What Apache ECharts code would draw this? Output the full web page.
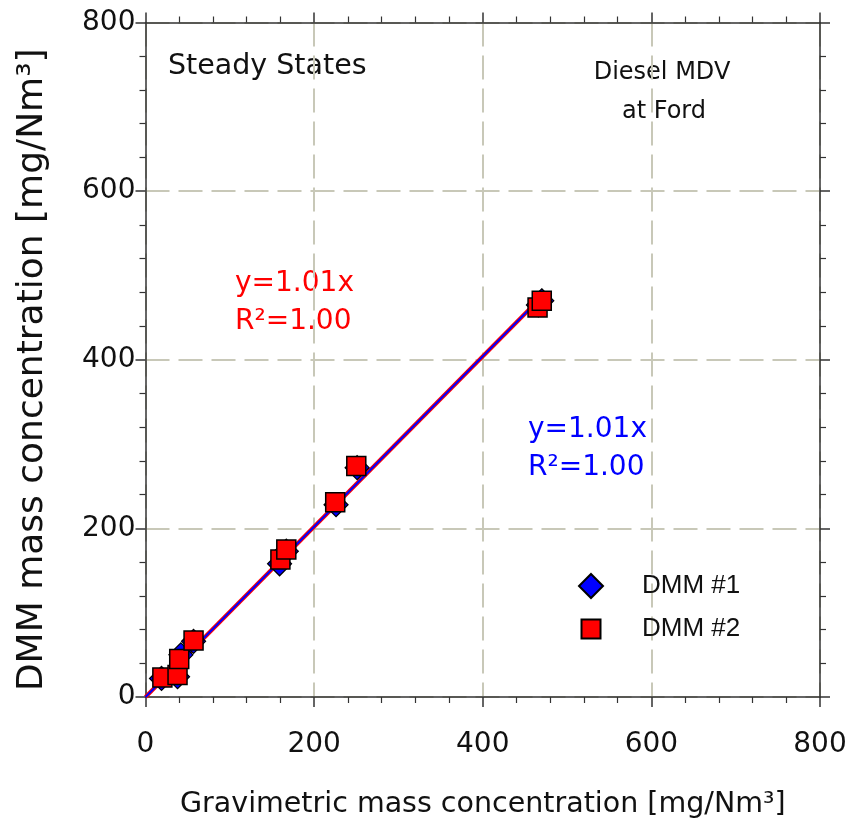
<!DOCTYPE html>
<html><head><meta charset="utf-8">
<script src="https://cdn.jsdelivr.net/npm/echarts@6/dist/echarts.min.js"></script>
<style>html,body{margin:0;padding:0;background:#fff}#c{width:850px;height:828px}</style>
</head><body><div id="c"></div>
<script>
// Data
const dmm1 = [[19,22],[38,24],[42,50],[57,66],[159,158],[167,173],[226,228],[251,272],[466,465],[470,470]];
const dmm2 = [[20,23],[38,26],[40,45],[57,67],[160,163],[167,175],[225,231],[250,274],[465,462],[470,470]];
const fitSlope1 = 1.01, fitSlope2 = 1.01;
const fitXRange = [0, 470];
const axisTicks = [0, 200, 400, 600, 800];

const chart = echarts.init(document.getElementById('c'));
const fnt = 'DejaVu Sans';
const fitLine = s => fitXRange.map(x => [x, s * x]);
const gridLine = {show: true, lineStyle: {color: '#c8c8b8', width: 2, type: [24, 9]}};
const axisCommon = {
  min: axisTicks[0], max: axisTicks[axisTicks.length-1], interval: 200,
  axisLine: {show: true, onZero: false, lineStyle: {color: '#333', width: 1.5}},
  axisTick: {show: true, inside: false, length: 10, lineStyle: {color: '#333', width: 1.5}},
  minorTick: {show: true, splitNumber: 5, length: 6, lineStyle: {color: '#333', width: 1.2}},
  splitLine: {show: false}
};
chart.setOption({
  animation: false,
  grid: {left: 145.5, right: 30, top: 22.5, bottom: 131},
  xAxis: [
    Object.assign({}, axisCommon, {type: 'value', position: 'bottom',
      name: 'Gravimetric mass concentration [mg/Nm³]', nameLocation: 'middle', nameGap: 93,
      nameTextStyle: {fontFamily: fnt, fontSize: 28.5, color: '#111'},
      axisLabel: {fontFamily: fnt, fontSize: 28, color: '#111', margin: 34},
      splitLine: gridLine}),
    Object.assign({}, axisCommon, {type: 'value', position: 'top', axisLabel: {show: false}})
  ],
  yAxis: [
    Object.assign({}, axisCommon, {type: 'value', position: 'left',
      name: 'DMM mass concentration [mg/Nm³]', nameLocation: 'middle', nameGap: 95,
      nameTextStyle: {fontFamily: fnt, fontSize: 36, color: '#111', padding: [0, 20, 0, 0]},
      axisLabel: {fontFamily: fnt, fontSize: 28, color: '#111', margin: 10},
      splitLine: gridLine}),
    Object.assign({}, axisCommon, {type: 'value', position: 'right', axisLabel: {show: false}})
  ],
  legend: [
    {orient: 'vertical', left: 573, top: 567, itemWidth: 24, itemHeight: 24,
      textStyle: {fontFamily: 'Liberation Sans', fontSize: 26, color: '#111', lineHeight: 28, padding: [0, 0, 0, 34]},
      data: [{name: 'DMM #1', icon: 'diamond'}]},
    {orient: 'vertical', left: 575.5, top: 610, itemWidth: 19, itemHeight: 19,
      textStyle: {fontFamily: 'Liberation Sans', fontSize: 26, color: '#111', lineHeight: 28, padding: [0, 0, 0, 36.5]},
      data: [{name: 'DMM #2', icon: 'rect'}]}
  ],
  series: [
    {type: 'line', data: fitLine(fitSlope2), showSymbol: false, symbol: 'none', lineStyle: {color: '#ff0000', width: 4}, z: 2, silent: true},
    {type: 'line', data: fitLine(fitSlope1), showSymbol: false, symbol: 'none', lineStyle: {color: '#0000ff', width: 2}, z: 3, silent: true},
    {name: 'DMM #1', type: 'scatter', data: dmm1, symbol: 'diamond', symbolSize: 24,
      itemStyle: {color: '#0000ff', borderColor: '#000', borderWidth: 1.2, opacity: 1}, z: 4},
    {name: 'DMM #2', type: 'scatter', data: dmm2, symbol: 'rect', symbolSize: 19,
      itemStyle: {color: '#ff0000', borderColor: '#000', borderWidth: 1.5, opacity: 1}, z: 5}
  ],
  graphic: [
    {type: 'text', left: 168, top: 52, style: {text: 'Steady States', font: '28.5px "DejaVu Sans"', fill: '#111'}},
    {type: 'text', x: 662, y: 61, style: {text: 'Diesel MDV', font: '24px "DejaVu Sans"', fill: '#111', align: 'center', verticalAlign: 'top'}},
    {type: 'text', x: 664, y: 100, style: {text: 'at Ford', font: '24px "DejaVu Sans"', fill: '#111', align: 'center', verticalAlign: 'top'}},
    {type: 'text', left: 235, top: 270, style: {text: 'y=1.01x', font: '28px "DejaVu Sans"', fill: '#ff0000'}},
    {type: 'text', left: 235, top: 308, style: {text: 'R²=1.00', font: '28px "DejaVu Sans"', fill: '#ff0000'}},
    {type: 'text', left: 528, top: 416, style: {text: 'y=1.01x', font: '28px "DejaVu Sans"', fill: '#0000ff'}},
    {type: 'text', left: 528, top: 454, style: {text: 'R²=1.00', font: '28px "DejaVu Sans"', fill: '#0000ff'}}
  ]
});
</script></body></html>
